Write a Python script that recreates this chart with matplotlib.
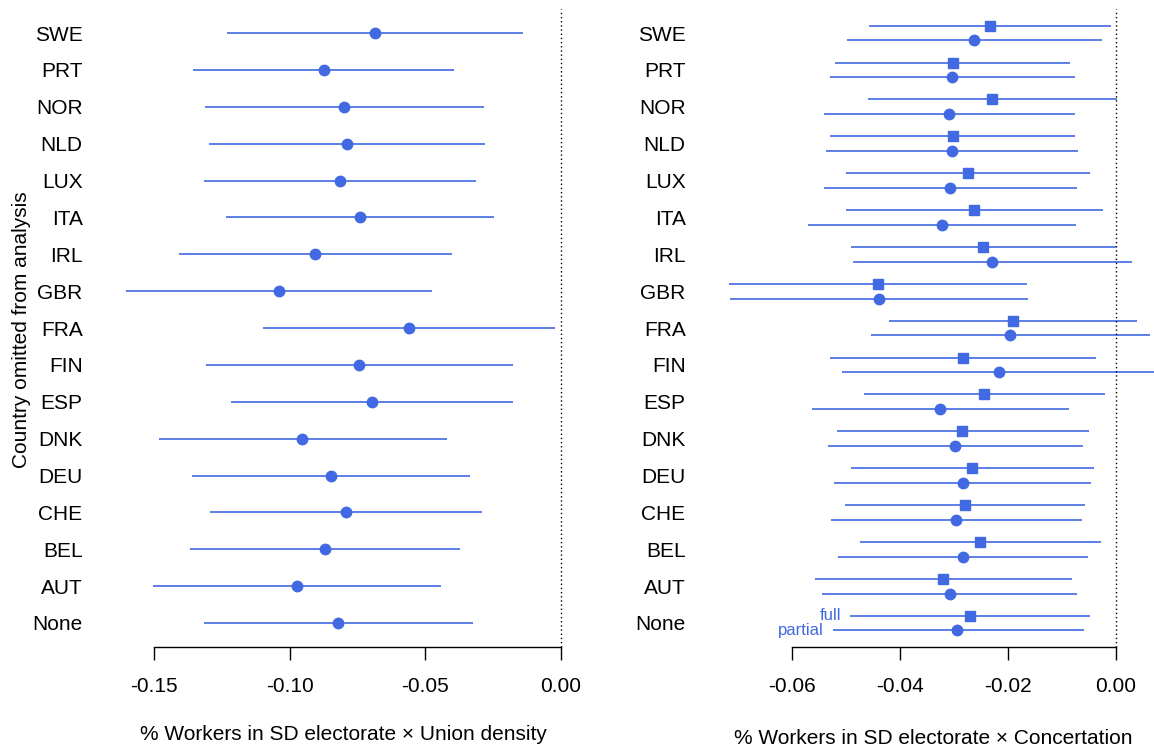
import numpy as np
import matplotlib
matplotlib.use("Agg")
import matplotlib.pyplot as plt

plt.rcParams['font.family'] = ['Liberation Sans', 'DejaVu Sans']

# countries, top to bottom
countries = ["SWE", "PRT", "NOR", "NLD", "LUX", "ITA", "IRL", "GBR", "FRA",
             "FIN", "ESP", "DNK", "DEU", "CHE", "BEL", "AUT", "None"]

# left panel: union density interaction
union_est = [-0.0684, -0.0875, -0.0798, -0.0789, -0.0815, -0.0740, -0.0905, -0.1039, -0.0560,
             -0.0743, -0.0696, -0.0953, -0.0848, -0.0794, -0.0871, -0.0973, -0.0820]
union_lo = [-0.1231, -0.1356, -0.1312, -0.1297, -0.1315, -0.1235, -0.1408, -0.1603, -0.1098,
            -0.1308, -0.1215, -0.1482, -0.1359, -0.1296, -0.1367, -0.1503, -0.1315]
union_hi = [-0.0139, -0.0393, -0.0282, -0.0279, -0.0314, -0.0245, -0.0401, -0.0475, -0.0022,
            -0.0177, -0.0177, -0.0420, -0.0335, -0.0290, -0.0372, -0.0443, -0.0322]

# right panel: concertation interaction, full and partial
full_est = [-0.0233, -0.0302, -0.0229, -0.0302, -0.0274, -0.0262, -0.0245, -0.0441, -0.0191,
            -0.0283, -0.0243, -0.0284, -0.0267, -0.0280, -0.0251, -0.0320, -0.0270]
full_lo = [-0.0457, -0.0519, -0.0458, -0.0529, -0.0499, -0.0499, -0.0490, -0.0717, -0.0420,
           -0.0530, -0.0466, -0.0517, -0.0490, -0.0501, -0.0473, -0.0557, -0.0492]
full_hi = [-0.0009, -0.0085, 0.0002, -0.0075, -0.0047, -0.0024, 0.0001, -0.0165, 0.0039,
           -0.0036, -0.0020, -0.0050, -0.0041, -0.0057, -0.0028, -0.0081, -0.0048]

partial_est = [-0.0262, -0.0303, -0.0309, -0.0303, -0.0307, -0.0322, -0.0229, -0.0438, -0.0196,
               -0.0216, -0.0325, -0.0297, -0.0283, -0.0295, -0.0283, -0.0307, -0.0293]
partial_lo = [-0.0498, -0.0529, -0.0540, -0.0536, -0.0540, -0.0569, -0.0487, -0.0714, -0.0454,
              -0.0507, -0.0562, -0.0533, -0.0522, -0.0527, -0.0514, -0.0543, -0.0524]
partial_hi = [-0.0025, -0.0076, -0.0076, -0.0069, -0.0072, -0.0074, 0.0031, -0.0162, 0.0064,
              0.0085, -0.0087, -0.0060, -0.0045, -0.0062, -0.0051, -0.0071, -0.0059]

blue = "#4169E1"
n = len(countries)
ypos = np.arange(n)[::-1]

W, H = 1154, 747
fig = plt.figure(figsize=(W / 100, H / 100), dpi=100)

bottom = (H - 646.6) / H
height = (646.6 - 9.4) / H
ax1 = fig.add_axes([109 / W, bottom, (578 - 109) / W, height])
ax2 = fig.add_axes([712 / W, bottom, (1154 - 712) / W, height])


def style(ax, xlim, ticks, labels, xlabel, lpad):
    ax.set_xlim(*xlim)
    ax.set_ylim(-0.64, n - 1 + 0.64)
    for s in ["top", "right", "left"]:
        ax.spines[s].set_visible(False)
    ax.spines["bottom"].set_bounds(ticks[0], ticks[-1])
    ax.spines["bottom"].set_linewidth(1.0)
    ax.set_xticks(ticks)
    ax.set_xticklabels(labels)
    ax.tick_params(axis="x", length=9, width=1.0, pad=13, labelsize=15)
    ax.set_yticks(ypos)
    ax.set_yticklabels(countries)
    ax.tick_params(axis="y", length=0, pad=19, labelsize=15)
    ax.axvline(0, color="black", lw=1.0, ls=(0, (1, 2)))
    ax.set_xlabel(xlabel, fontsize=15, labelpad=lpad)


# left panel
ax1.hlines(ypos, union_lo, union_hi, color=blue, lw=1.2)
ax1.plot(union_est, ypos, "o", color=blue, ms=7.5, ls="none")
style(ax1, (-0.1667, 0.0064), [-0.15, -0.10, -0.05, 0.0],
      ["-0.15", "-0.10", "-0.05", "0.00"],
      "% Workers in SD electorate × Union density", 21)

# right panel
off = 0.2
ax2.hlines(ypos + off, full_lo, full_hi, color=blue, lw=1.2)
ax2.plot(full_est, ypos + off, "s", color=blue, ms=6.8, ls="none")
ax2.hlines(ypos - off, partial_lo, partial_hi, color=blue, lw=1.2)
ax2.plot(partial_est, ypos - off, "o", color=blue, ms=7.5, ls="none")
ax2.text(full_lo[-1] - 0.0017, ypos[-1] + off, "full", color=blue, fontsize=12,
         ha="right", va="center")
ax2.text(partial_lo[-1] - 0.0017, ypos[-1] - off, "partial", color=blue, fontsize=12,
         ha="right", va="center")
style(ax2, (-0.07476, 0.00709), [-0.06, -0.04, -0.02, 0.0],
      ["-0.06", "-0.04", "-0.02", "0.00"],
      "% Workers in SD electorate × Concertation", 23.5)

fig.text(22 / W, 1 - 330 / H, "Country omitted from analysis", rotation=90,
         fontsize=15, ha="center", va="center")

fig.savefig("out.png", dpi=100)
